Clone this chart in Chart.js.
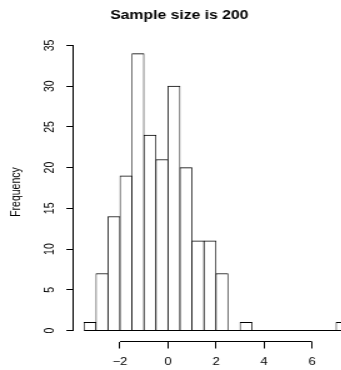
<!DOCTYPE html>
<html>
<head>
<meta charset="utf-8">
<script src="https://cdn.jsdelivr.net/npm/chart.js@4.4.1/dist/chart.umd.min.js"></script>
<style>
  html, body { margin: 0; padding: 0; background: #fff; overflow: hidden; width: 341px; height: 370px; }
  /* the reference is stretched sideways, so draw narrow and widen */
  #wrap { width: 346px; height: 370px; transform: scaleX(1.25); transform-origin: 0 0; }
</style>
</head>
<body>
<div id="wrap"><canvas id="hist" width="346" height="370"></canvas></div>
<script>
// ── Data ─────────────────────────────────────────────────
const binEdges = [-3.5, -3, -2.5, -2, -1.5, -1, -0.5, 0, 0.5, 1, 1.5, 2, 2.5, 3, 3.5, 4, 4.5, 5, 5.5, 6, 6.5, 7, 7.5];
const counts   = [1, 7, 14, 19, 34, 24, 21, 30, 20, 11, 11, 7, 0, 1, 0, 0, 0, 0, 0, 0, 0, 1];

const xTicks      = [-2, 0, 2, 4, 6];
const xTickLabels = ['\u22122', '0', '2', '4', '6'];
const yTicks      = [0, 5, 10, 15, 20, 25, 30, 35];
const yTickLabels = ['0', '5', '10', '15', '20', '25', '30', '35'];

const titleText  = 'Sample size is 200';
const yTitleText = 'Frequency';

// axis limits (R pads the range by 4%)
const xMin = -3.94, xMax = 7.94;
const yMin = -1.35, yMax = 35.36;

// ── Chart ────────────────────────────────────────────────
const FONT = '"Liberation Sans", Arial, Helvetica, sans-serif';
const ink = '#000';

const alignPx = v => Math.round(v - 0.5) + 0.5;

// R draws the axis line only from the first to the last tick
const axisLines = {
  id: 'axisLines',
  afterDraw(chart) {
    const { ctx, chartArea, scales: { x, y } } = chart;
    ctx.save();
    ctx.strokeStyle = ink;
    ctx.lineWidth = 1;
    ctx.beginPath();
    const yb = alignPx(chartArea.bottom);
    ctx.moveTo(x.getPixelForValue(xTicks[0]), yb);
    ctx.lineTo(x.getPixelForValue(xTicks[xTicks.length - 1]), yb);
    const xl = alignPx(chartArea.left);
    ctx.moveTo(xl, y.getPixelForValue(yTicks[0]));
    ctx.lineTo(xl, y.getPixelForValue(yTicks[yTicks.length - 1]));
    ctx.stroke();
    ctx.restore();
  },
};

const bars = counts.map((c, i) => ({ x: (binEdges[i] + binEdges[i + 1]) / 2, y: c }));

new Chart(document.getElementById('hist'), {
  type: 'bar',
  data: {
    datasets: [
      {
        type: 'bar',
        data: bars,
        backgroundColor: '#fff',
        borderColor: ink,
        borderWidth: { top: 1, left: 0.75, right: 0.75, bottom: 0 },
        borderSkipped: false,
        barPercentage: 1,
        categoryPercentage: 1,
        grouped: false,
        order: 1,
      },
      {
        // zero-height bins still show as a line along 0
        type: 'line',
        data: [{ x: binEdges[0], y: 0 }, { x: binEdges[binEdges.length - 1], y: 0 }],
        borderColor: ink,
        borderWidth: 1,
        pointRadius: 0,
        order: 0,
      },
    ],
  },
  options: {
    responsive: false,
    animation: false,
    events: [],
    layout: { padding: { left: 0, right: 59.12, top: 0, bottom: 0 } },
    scales: {
      x: {
        type: 'linear',
        offset: false,
        min: xMin,
        max: xMax,
        afterBuildTicks: s => { s.ticks = xTicks.map(v => ({ value: v })); },
        afterFit: s => { s.height = 28.5; },
        border: { display: false },
        grid: { offset: false, drawOnChartArea: false, drawTicks: true, tickLength: 7, color: ink, lineWidth: 1 },
        ticks: {
          color: ink, font: { family: FONT, size: 10.5 }, padding: 7.4,
          maxRotation: 0, autoSkip: false,
          callback: (v, i) => xTickLabels[i],
        },
      },
      y: {
        type: 'linear',
        min: yMin,
        max: yMax,
        afterBuildTicks: s => { s.ticks = yTicks.map(v => ({ value: v })); },
        afterFit: s => { s.width = 58.72; },
        border: { display: false },
        grid: { drawOnChartArea: false, drawTicks: true, tickLength: 5.6, color: ink, lineWidth: 1 },
        ticks: {
          color: ink, font: { family: FONT, size: 10.5 }, padding: 7.3,
          minRotation: 90, maxRotation: 90, crossAlign: 'center', autoSkip: false,
          callback: (v, i) => yTickLabels[i],
        },
        title: {
          display: true, text: yTitleText, color: ink,
          font: { family: FONT, size: 10.5 },
          padding: { top: 7.1, bottom: 0 },
        },
      },
    },
    plugins: {
      legend: { display: false },
      tooltip: { enabled: false },
      title: {
        display: true, text: titleText, color: ink,
        font: { family: FONT, size: 12.6, weight: 'bold' },
        padding: { top: 7.7, bottom: 19.68 },
      },
    },
  },
  plugins: [axisLines],
});
</script>
</body>
</html>
